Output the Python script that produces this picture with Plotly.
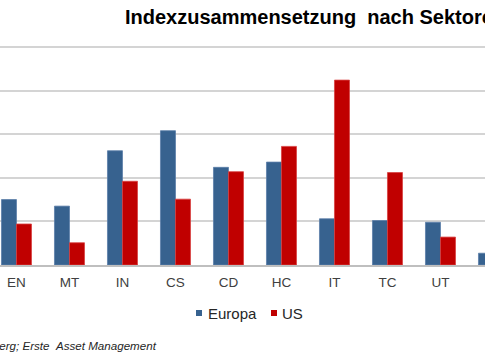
import plotly.graph_objects as go

categories = ["EN", "MT", "IN", "CS", "CD", "HC", "IT", "TC", "UT", "RE"]
europa = [7.5, 6.75, 13.1, 15.4, 11.2, 11.8, 5.3, 5.1, 4.9, 1.35]
us = [4.7, 2.55, 9.6, 7.55, 10.7, 13.6, 21.2, 10.6, 3.2, 3.0]
series_names = ["Europa", "US"]
grid_vals = [0, 5, 10, 15, 20, 25]

blue = "#37628F"
red = "#C00000"
font = "Liberation Sans, Arial, sans-serif"
W, H = 485, 360
T, B = 38, 95
PH = H - T - B


def px(x):
    return x / W


def py(y):
    return (H - B - y) / PH


fig = go.Figure()
fig.add_trace(go.Bar(x=categories, y=europa, name=series_names[0],
                     marker=dict(color=blue, line=dict(color="#5A7EA8", width=0.8)), showlegend=False))
fig.add_trace(go.Bar(x=categories, y=us, name=series_names[1],
                     marker=dict(color=red, line=dict(color="#D84040", width=0.8)), showlegend=False))

shapes = []
annotations = []
# manual legend
for name, color, sq_x, tx in [(series_names[0], blue, 196, 208), (series_names[1], red, 271, 282)]:
    shapes.append(dict(type="rect", xref="paper", yref="paper", x0=px(sq_x), x1=px(sq_x + 6),
                       y0=py(316), y1=py(310), fillcolor=color, line=dict(width=0)))
    annotations.append(dict(text=name, xref="paper", yref="paper", x=px(tx), xanchor="left",
                            y=py(313), yanchor="middle", showarrow=False, xshift=-2,
                            font=dict(size=15, color="#262626", family=font)))

annotations += [
    dict(text="<b>Indexzusammensetzung\u00a0\u00a0nach Sektoren</b>", xref="paper", yref="paper",
         x=px(125), xanchor="left", y=py(16.5), yanchor="middle", showarrow=False, xshift=-2,
         font=dict(size=20, color="#000000", family=font)),
    dict(text="<i>Quelle: Bloomberg; Erste\u00a0\u00a0Asset Management</i>", xref="paper", yref="paper",
         x=px(159), xanchor="right", y=py(345), yanchor="middle", showarrow=False,
         font=dict(size=11.6, color="#262626", family=font)),
]

fig.update_layout(
    width=W, height=H,
    margin=dict(l=0, r=0, t=T, b=B, autoexpand=False),
    paper_bgcolor="white", plot_bgcolor="white",
    barmode="group", bargap=0.434, bargroupgap=0,
    font=dict(family=font, color="#404040"),
    showlegend=False,
    xaxis=dict(type="category", range=[-0.311, 8.84], showgrid=False,
               showline=True, linecolor="#BFBFBF", linewidth=1.5,
               tickfont=dict(size=13.5, color="#404040"), ticks="", ticklabelstandoff=4),
    yaxis=dict(range=[0, 26.03], tickvals=grid_vals, showgrid=True,
               gridcolor="#D4D4D4", gridwidth=1.5,
               showticklabels=False, zeroline=False, showline=False),
    shapes=shapes,
    annotations=annotations,
)

fig.write_html("out.html", config={"displayModeBar": False},
               post_script="document.body.style.margin='0px';")
